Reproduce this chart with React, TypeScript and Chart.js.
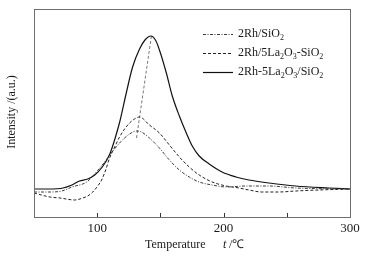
import React, { useEffect, useRef } from "react";
import { Chart, registerables } from "chart.js";
Chart.register(...registerables);

// 2Rh/SiO2 (dash-dot)
const tempA = [50, 62.6, 72, 80, 91.7, 98, 104, 110, 117.7, 125.6, 131.1, 135, 141.3, 149.2, 157.1, 165, 172.8, 180.7, 191, 202, 217.7, 235.8, 257, 300];
const valA = [25, 25, 26, 30, 35, 43, 52, 62, 74, 83, 86, 85, 79, 69, 57, 47, 40, 35, 32, 30, 31, 31, 29, 28];

// 2Rh/5La2O3-SiO2 (dashed)
const tempB = [50, 62.6, 70.5, 82.3, 88.6, 92.5, 96.5, 100.4, 103.5, 106.7, 109.8, 113.8, 117.7, 121.7, 125.6, 129.5, 133.5, 141.3, 149.2, 157.1, 165, 172.8, 180.7, 191, 202, 212.2, 220, 230.3, 243.7, 257, 275, 300];
const valB = [24, 20, 19, 17, 19, 21, 25, 31, 37, 47, 59, 70, 80, 88, 94, 98, 100, 92, 84, 72, 60, 50, 42, 35, 31, 29, 27, 25, 25, 26, 27, 28];

// 2Rh-5La2O3/SiO2 (solid)
const tempC = [50, 62, 73, 80, 86, 92.5, 98, 104, 110, 114, 118, 123, 128, 133.5, 137.8, 142.6, 146.5, 149.5, 154.7, 159.4, 165, 170.5, 175.2, 180.7, 188.6, 198.8, 209.8, 220, 236, 257, 283, 300];
const valC = [28, 28, 29, 32, 36, 38, 42, 50, 63, 78, 96, 124, 150, 168, 177, 181, 176, 166, 144, 121, 101, 84, 71, 61, 53, 45, 40, 37, 34, 31, 29, 28];

// stray dashed segment in the original figure
const tempD = [131.1, 142.9];
const valD = [79, 181];

const labels = ["2Rh/SiO_2", "2Rh/5La_2O_3-SiO_2", "2Rh-5La_2O_3/SiO_2"];
const xTickValues = [100, 150, 200, 250];

const SERIF = '"Liberation Serif", "Times New Roman", serif';

function toPts(xs: number[], ys: number[]) {
  return xs.map((x, i) => ({ x, y: ys[i] }));
}

function drawRich(ctx: CanvasRenderingContext2D, text: string, x: number, y: number, size: number) {
  let cx = x;
  let i = 0;
  let buf = "";
  const flush = () => {
    if (!buf) return;
    ctx.font = `${size}px ${SERIF}`;
    ctx.fillText(buf, cx, y);
    cx += ctx.measureText(buf).width;
    buf = "";
  };
  while (i < text.length) {
    if (text[i] === "_" && i + 1 < text.length) {
      flush();
      const s = text[i + 1];
      ctx.font = `${Math.round(size * 0.66)}px ${SERIF}`;
      ctx.fillText(s, cx, y + size * 0.3);
      cx += ctx.measureText(s).width;
      i += 2;
    } else {
      buf += text[i];
      i++;
    }
  }
  flush();
}

const decoPlugin = {
  id: "deco",
  afterDraw(chart: any) {
    const ctx: CanvasRenderingContext2D = chart.ctx;
    const { left, right, top, bottom } = chart.chartArea;
    const xs = chart.scales.x;
    ctx.save();
    // frame
    ctx.strokeStyle = "#6e6e6e";
    ctx.lineWidth = 1;
    ctx.setLineDash([]);
    ctx.strokeRect(Math.round(left) + 0.5, Math.round(top) + 0.5, Math.round(right - left), Math.round(bottom - top));
    // inward ticks
    ctx.strokeStyle = "#333";
    xTickValues.forEach((v) => {
      const px = Math.round(xs.getPixelForValue(v)) + 0.5;
      ctx.beginPath();
      ctx.moveTo(px, bottom);
      ctx.lineTo(px, bottom - 4);
      ctx.stroke();
    });
    // legend
    const ds = chart.data.datasets;
    const rows = [34, 53, 72];
    ctx.fillStyle = "#1a1a1a";
    ctx.textBaseline = "middle";
    ctx.textAlign = "left";
    for (let k = 0; k < 3; k++) {
      const d = ds[k];
      ctx.strokeStyle = d.borderColor;
      ctx.lineWidth = d.borderWidth;
      ctx.setLineDash(d.borderDash || []);
      ctx.beginPath();
      ctx.moveTo(203, rows[k] + 0.5);
      ctx.lineTo(233, rows[k] + 0.5);
      ctx.stroke();
      ctx.setLineDash([]);
      drawRich(ctx, labels[k], 238, rows[k], 12);
    }
    // x title
    ctx.textBaseline = "middle";
    ctx.font = `12px ${SERIF}`;
    ctx.fillText("Temperature", 145, 245);
    ctx.font = `italic 12px ${SERIF}`;
    ctx.fillText("t", 223, 245);
    ctx.font = `12px ${SERIF}`;
    ctx.fillText(" /\u2103", 226, 245);
    // y title
    ctx.translate(12, 112);
    ctx.rotate(-Math.PI / 2);
    ctx.textAlign = "center";
    ctx.fillText("Intensity /(a.u.)", 0, 0);
    ctx.restore();
  },
};

export default function App() {
  const ref = useRef<HTMLCanvasElement | null>(null);
  useEffect(() => {
    document.body.style.margin = "0";
    if (!ref.current) return;
    const chart = new Chart(ref.current, {
      type: "line",
      data: {
        datasets: [
          {
            label: labels[0],
            data: toPts(tempA, valA),
            borderColor: "#3a3a3a",
            borderWidth: 1,
            borderDash: [3, 1.5, 1, 1.5],
            pointRadius: 0,
            cubicInterpolationMode: "monotone",
          },
          {
            label: labels[1],
            data: toPts(tempB, valB),
            borderColor: "#222",
            borderWidth: 1,
            borderDash: [3, 2],
            pointRadius: 0,
            cubicInterpolationMode: "monotone",
          },
          {
            label: labels[2],
            data: toPts(tempC, valC),
            borderColor: "#111",
            borderWidth: 1.2,
            pointRadius: 0,
            cubicInterpolationMode: "monotone",
          },
          {
            label: "",
            data: toPts(tempD, valD),
            borderColor: "#777",
            borderWidth: 1,
            borderDash: [3, 2],
            pointRadius: 0,
          },
        ] as any,
      },
      options: {
        animation: false,
        responsive: false,
        layout: { padding: { left: 34, right: 21, top: 9, bottom: 0 } },
        plugins: { legend: { display: false }, tooltip: { enabled: false } },
        scales: {
          x: {
            type: "linear",
            min: 50,
            max: 300,
            border: { display: false },
            grid: { display: false, drawTicks: false },
            ticks: {
              stepSize: 50,
              padding: 4,
              color: "#1a1a1a",
              font: { family: SERIF, size: 13 },
              maxRotation: 0,
              callback: (v: any) => (v === 100 || v === 200 || v === 300 ? String(v) : ""),
            },
            afterFit: (s: any) => {
              s.height = 45;
            },
          },
          y: {
            display: false,
            min: 0,
            max: 208,
          },
        },
      } as any,
      plugins: [decoPlugin],
    });
    return () => chart.destroy();
  }, []);
  return <canvas ref={ref} width={371} height={262} style={{ display: "block" }} />;
}
